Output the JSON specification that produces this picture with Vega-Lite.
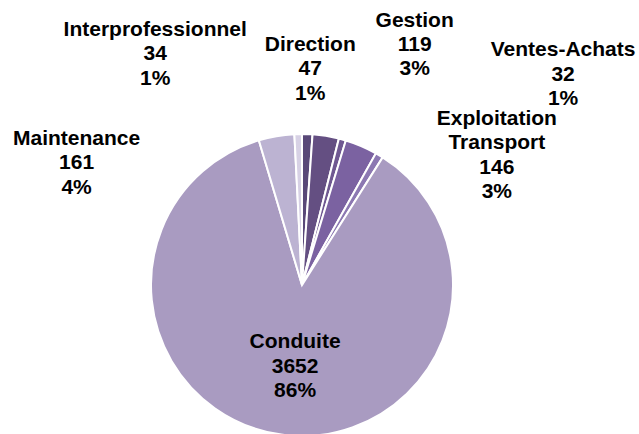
{
  "$schema": "https://vega.github.io/schema/vega-lite/v6.json",
  "width": 604,
  "height": 298,
  "autosize": {"type": "none"},
  "padding": {"left": 0, "top": 136, "right": 35, "bottom": 0},
  "background": "white",
  "view": {"stroke": null},
  "data": {
    "values": [
      {"categorie": "Direction", "effectif": 47},
      {"categorie": "Gestion", "effectif": 119},
      {"categorie": "Ventes-Achats", "effectif": 32},
      {"categorie": "Exploitation Transport", "effectif": 146},
      {"categorie": "Autres", "effectif": 35},
      {"categorie": "Conduite", "effectif": 3652},
      {"categorie": "Maintenance", "effectif": 161},
      {"categorie": "Interprofessionnel", "effectif": 34}
    ]
  },
  "transform": [
    {"window": [{"op": "row_number", "as": "rang"}]},
    {"joinaggregate": [{"op": "sum", "field": "effectif", "as": "total"}]},
    {"calculate": "replace(datum.categorie, ' ', '\\n') + '\\n' + datum.effectif + '\\n' + round(100 * datum.effectif / datum.total) + '%'", "as": "etiquette"}
  ],
  "encoding": {
    "theta": {"field": "effectif", "type": "quantitative", "stack": true},
    "order": {"field": "rang", "type": "quantitative", "sort": "ascending"},
    "color": {
      "field": "categorie",
      "type": "nominal",
      "scale": {
        "domain": ["Direction", "Gestion", "Ventes-Achats", "Exploitation Transport", "Autres", "Conduite", "Maintenance", "Interprofessionnel"],
        "range": ["#594878", "#644f82", "#6f5891", "#7b62a1", "#8c78b2", "#a99bc1", "#bcb3d2", "#d7d1e5"]
      },
      "legend": null
    }
  },
  "layer": [
    {"mark": {"type": "arc", "outerRadius": 151, "stroke": "white", "strokeWidth": 2}},
    {
      "mark": {
        "type": "text",
        "font": "Liberation Sans",
        "fontWeight": "bold",
        "fontSize": 21,
        "lineBreak": "\n",
        "lineHeight": 24.3,
        "align": "center",
        "baseline": "middle",
        "radius": {"expr": "datum.categorie === 'Conduite' ? 80 : 150"},
        "dx": {"expr": "datum.categorie === 'Direction' ? 3 : datum.categorie === 'Gestion' ? 89 : datum.categorie === 'Ventes-Achats' ? 221 : datum.categorie === 'Exploitation Transport' ? 136 : datum.categorie === 'Conduite' ? 4 : datum.categorie === 'Maintenance' ? -200 : datum.categorie === 'Interprofessionnel' ? -143 : 0"},
        "dy": {"expr": "datum.categorie === 'Direction' ? -90 : datum.categorie === 'Gestion' ? -116 : datum.categorie === 'Ventes-Achats' ? -90 : datum.categorie === 'Exploitation Transport' ? -28 : datum.categorie === 'Conduite' ? -22 : datum.categorie === 'Maintenance' ? 2 : datum.categorie === 'Interprofessionnel' ? -105 : 0"}
      },
      "encoding": {
        "text": {"field": "etiquette", "type": "nominal"},
        "fill": {"value": "black"},
        "opacity": {"condition": {"test": "datum.categorie === 'Autres'", "value": 0}, "value": 1}
      }
    }
  ]
}
